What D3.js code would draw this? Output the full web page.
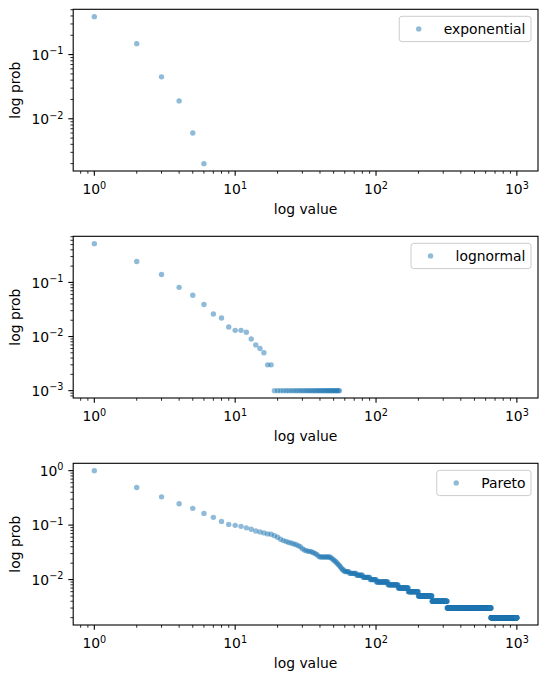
<!DOCTYPE html>
<html>
<head>
<meta charset="utf-8">
<script src="https://cdn.jsdelivr.net/npm/d3@7"></script>
<style>
body { margin: 0; background: #fff; }
svg { display: block; font-family: "DejaVu Sans", sans-serif; }
</style>
</head>
<body>
<svg width="547" height="681"></svg>
<script>
// probabilities: "head" arrays give one value per integer starting at 1,
// "runs" are flat stretches [fromValue, toValue, prob]
const exponentialHead = [0.39, 0.148, 0.045, 0.019, 0.006, 0.002];
const exponentialRuns = [];

const lognormalHead = [0.52, 0.243, 0.140, 0.081, 0.058, 0.039, 0.026, 0.022, 0.015, 0.013,
    0.013, 0.012, 0.009, 0.007, 0.006, 0.005, 0.003, 0.003];
const lognormalRuns = [[19, 55, 0.001]];

const paretoHead = [1.0, 0.49, 0.33, 0.246, 0.203, 0.164, 0.139, 0.117, 0.103, 0.099,
    0.095, 0.089, 0.084, 0.078, 0.075, 0.072, 0.069, 0.068, 0.064, 0.060,
    0.055, 0.052, 0.050, 0.048, 0.047, 0.045, 0.044, 0.042, 0.040, 0.037,
    0.035, 0.034, 0.033, 0.033, 0.032, 0.031, 0.030, 0.029, 0.027];
const paretoRuns = [
    [40, 47, 0.026], [48, 48, 0.025], [49, 49, 0.024], [50, 50, 0.023], [51, 51, 0.022],
    [52, 52, 0.021], [53, 53, 0.020], [54, 54, 0.019], [55, 55, 0.018], [56, 56, 0.017],
    [57, 57, 0.016], [58, 59, 0.015], [60, 64, 0.014], [65, 72, 0.013], [73, 80, 0.012],
    [81, 90, 0.011], [91, 100, 0.010], [101, 121, 0.009], [122, 143, 0.008], [144, 169, 0.007],
    [170, 199, 0.006], [200, 249, 0.005], [250, 319, 0.004], [320, 654, 0.003], [655, 1000, 0.002]
];

const seriesLabels = ["exponential", "lognormal", "Pareto"];
const xLabel = "log value";
const yLabel = "log prob";

const toPoints = (head, runs) => {
    const pts = head.map((p, i) => ({value: i + 1, prob: p}));
    runs.forEach(([from, to, p]) => {
        for (let v = from; v <= to; v++) pts.push({value: v, prob: p});
    });
    return pts;
};

const panels = [
    toPoints(exponentialHead, exponentialRuns),
    toPoints(lognormalHead, lognormalRuns),
    toPoints(paretoHead, paretoRuns)
];

// matplotlib style 5% margin in log space
const logLimits = (vals) => {
    const lo = Math.log10(d3.min(vals)), hi = Math.log10(d3.max(vals));
    const pad = (hi - lo) * 0.05;
    return [Math.pow(10, lo - pad), Math.pow(10, hi + pad)];
};

const majorTicks = (dom) => {
    const out = [];
    for (let k = Math.floor(Math.log10(dom[0])); k <= Math.ceil(Math.log10(dom[1])); k++) {
        const v = Math.pow(10, k);
        if (v >= dom[0] && v <= dom[1]) out.push(k);
    }
    return out;
};

const minorTicks = (dom) => {
    const out = [];
    for (let k = Math.floor(Math.log10(dom[0])); k <= Math.ceil(Math.log10(dom[1])); k++) {
        for (let m = 2; m <= 9; m++) {
            const v = m * Math.pow(10, k);
            if (v >= dom[0] && v <= dom[1]) out.push(v);
        }
    }
    return out;
};

const svg = d3.select("svg");
const left = 73.2, right = 538, top0 = 9.3, step = 227, ph = 161.7;
const fs = 13.9, supFs = 9.7;
const color = "#1f77b4";
const dotR = 2.7;
const majorLen = 4.86, minorLen = 2.78;

const xDomain = logLimits(panels.flat().map(d => d.value));

const tickLabel = (sel, exp) => {
    sel.append("tspan").attr("font-size", fs).text("10");
    sel.append("tspan").attr("font-size", supFs).attr("dy", -5.5)
        .text(String(exp).replace("-", "\u2212"));
};

panels.forEach((points, i) => {
    const top = top0 + step * i, bottom = top + ph;
    const x = d3.scaleLog().domain(xDomain).range([left, right]);
    const yDomain = logLimits(points.map(d => d.prob));
    const y = d3.scaleLog().domain(yDomain).range([bottom, top]);

    const g = svg.append("g");

    // points
    g.append("g").selectAll("circle")
        .data(points)
        .enter().append("circle")
        .attr("cx", d => x(d.value))
        .attr("cy", d => y(d.prob))
        .attr("r", dotR)
        .attr("fill", color)
        .attr("fill-opacity", 0.5);

    // x ticks
    const xt = g.append("g").attr("stroke", "#000");
    majorTicks(xDomain).forEach(k => {
        const px = x(Math.pow(10, k));
        xt.append("line").attr("x1", px).attr("x2", px).attr("y1", bottom).attr("y2", bottom + majorLen).attr("stroke-width", 1.1);
        const t = g.append("text").attr("x", px).attr("y", bottom + 23).attr("text-anchor", "middle");
        tickLabel(t, k);
    });
    minorTicks(xDomain).forEach(v => {
        const px = x(v);
        xt.append("line").attr("x1", px).attr("x2", px).attr("y1", bottom).attr("y2", bottom + minorLen).attr("stroke-width", 0.83);
    });

    // y ticks
    majorTicks(yDomain).forEach(k => {
        const py = y(Math.pow(10, k));
        xt.append("line").attr("x1", left).attr("x2", left - majorLen).attr("y1", py).attr("y2", py).attr("stroke-width", 1.1);
        const t = g.append("text").attr("x", left - 9.7).attr("y", py + 5.3).attr("text-anchor", "end");
        tickLabel(t, k);
    });
    minorTicks(yDomain).forEach(v => {
        const py = y(v);
        xt.append("line").attr("x1", left).attr("x2", left - minorLen).attr("y1", py).attr("y2", py).attr("stroke-width", 0.83);
    });

    // frame
    g.append("rect")
        .attr("x", left).attr("y", top)
        .attr("width", right - left).attr("height", ph)
        .attr("fill", "none").attr("stroke", "#000").attr("stroke-width", 1.1);

    // axis labels
    g.append("text")
        .attr("x", (left + right) / 2).attr("y", bottom + 43)
        .attr("text-anchor", "middle").attr("font-size", fs)
        .text(xLabel);
    g.append("text")
        .attr("transform", `translate(20,${(top + bottom) / 2}) rotate(-90)`)
        .attr("text-anchor", "middle").attr("font-size", fs)
        .text(yLabel);

    // legend
    const lg = g.append("g");
    const box = lg.append("rect");
    const label = lg.append("text").attr("font-size", fs).text(seriesLabels[i]);
    const tw = label.node().getComputedTextLength();
    const lw = 5.6 + 27.8 + 11.1 + tw + 5.6, lh = 25.3;
    const lx = right - 7 - lw, ly = top + 7;
    box.attr("x", lx).attr("y", ly).attr("width", lw).attr("height", lh)
        .attr("rx", 2.8)
        .attr("fill", "#fff").attr("fill-opacity", 0.8)
        .attr("stroke", "#cccccc").attr("stroke-width", 1);
    lg.append("circle")
        .attr("cx", lx + 19.5).attr("cy", ly + 12.6).attr("r", dotR)
        .attr("fill", color).attr("fill-opacity", 0.5);
    label.attr("x", lx + 44.5).attr("y", ly + 17.4);
});
</script>
</body>
</html>
